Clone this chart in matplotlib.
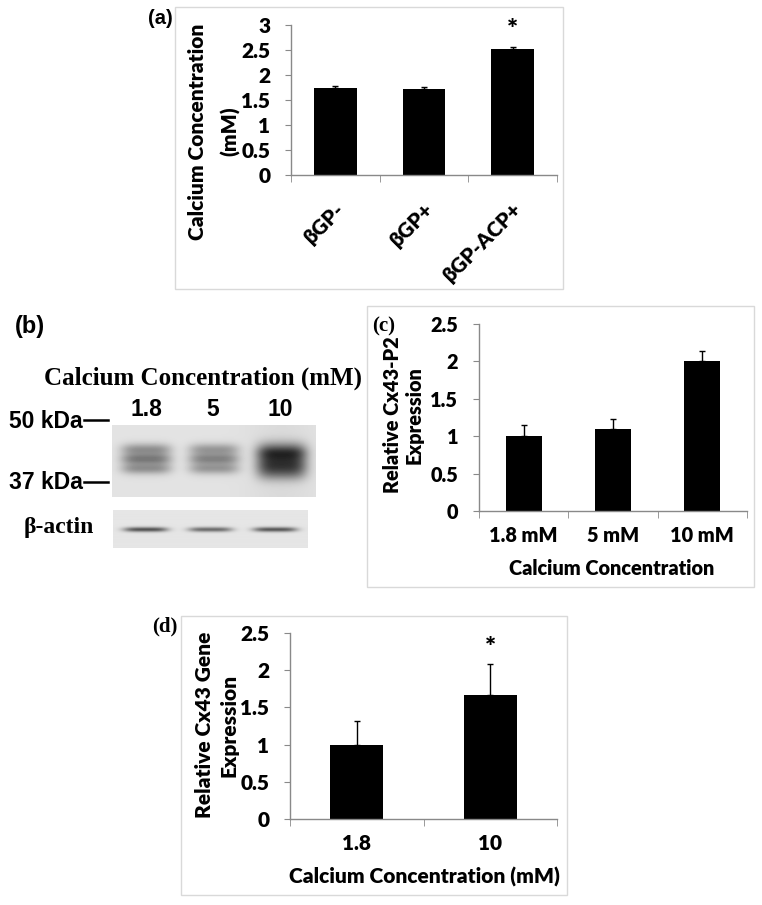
import numpy as np
import matplotlib
matplotlib.use("Agg")
import matplotlib.pyplot as plt
from matplotlib.patches import Rectangle
from matplotlib.transforms import offset_copy

# ---------------- data ----------------
a_cats = ["βGP-", "βGP+", "βGP-ACP+"]
a_vals = [1.74, 1.72, 2.51]
a_err = [0.03, 0.03, 0.05]
a_sig = [False, False, True]

c_cats = ["1.8 mM", "5 mM", "10 mM"]
c_vals = [1.0, 1.1, 2.0]
c_err = [0.15, 0.13, 0.14]

d_cats = ["1.8", "10"]
d_vals = [1.0, 1.66]
d_err = [0.32, 0.43]
d_sig = [False, True]

blot_lanes = ["1.8", "5", "10"]
cx43_darkness = [0.42, 0.38, 0.80]
actin_darkness = [0.60, 0.50, 0.58]

# ---------------- figure helpers ----------------
W, H = 762, 905
fig = plt.figure(figsize=(W / 100, H / 100), dpi=100)
fig.patch.set_facecolor("white")

SANS = ["Lato", "DejaVu Sans"]
SERIF = ["Liberation Serif", "DejaVu Serif"]
ARIAL = ["Liberation Sans", "DejaVu Sans"]
GREY = "#898989"
FS = 15
FSC = 14.3
WT = "heavy"


def add_ax(x0, y0, x1, y1):
    return fig.add_axes([x0 / W, 1 - y1 / H, (x1 - x0) / W, (y1 - y0) / H])


def ftext(x, y, s, **kw):
    return fig.text(x / W, 1 - y / H, s, **kw)


def box(x0, y0, x1, y1):
    fig.add_artist(Rectangle((x0 / W, 1 - y1 / H), (x1 - x0) / W, (y1 - y0) / H,
                             transform=fig.transFigure, fill=False,
                             ec="#d9d9d9", lw=1.0))


def bar_panel(ax, cats, vals, errs, ymax, width, fs, xlabels=True):
    x = np.arange(len(cats))
    ax.bar(x, vals, width=width, color="black", zorder=2)
    ax.errorbar(x, vals, yerr=[np.zeros(len(vals)), errs], fmt="none",
                ecolor="black", elinewidth=1, capsize=2.5, capthick=1, zorder=3)
    ax.set_xlim(-0.5, len(cats) - 0.5)
    ax.set_ylim(0, ymax)
    yt = np.arange(0, ymax + 0.001, 0.5)
    ax.set_yticks(yt)
    ax.set_yticklabels([f"{v:g}" for v in yt], fontfamily=SANS,
                       fontweight=WT, fontsize=fs)
    for s in ["top", "right"]:
        ax.spines[s].set_visible(False)
    for s in ["left", "bottom"]:
        ax.spines[s].set_color(GREY)
        ax.spines[s].set_linewidth(1.0)
    ax.tick_params(axis="y", length=4, color=GREY, pad=11)
    ax.set_xticks(x)
    if xlabels:
        ax.set_xticklabels(cats, fontfamily=SANS, fontweight=WT, fontsize=fs)
    else:
        ax.set_xticklabels([])
    ax.tick_params(axis="x", which="major", length=0, pad=11)
    ax.set_xticks(np.arange(len(cats) + 1) - 0.5, minor=True)
    ax.tick_params(axis="x", which="minor", length=5, color=GREY, direction="out")
    ax.patch.set_alpha(0)


# ---------------- panel (a) ----------------
box(175, 7, 563, 289)
axA = add_ax(291, 25, 557, 175)
bar_panel(axA, a_cats, a_vals, a_err, 3, 0.48, FS, xlabels=False)
tr = offset_copy(axA.get_xaxis_transform(), fig=fig, x=6, y=-31, units="dots")
for i, lab in enumerate(a_cats):
    axA.text(i, 0, lab, transform=tr, rotation=45, ha="right", va="center",
             rotation_mode="anchor", fontfamily=SANS, fontweight=WT, fontsize=FS)
for i, (v, e, s) in enumerate(zip(a_vals, a_err, a_sig)):
    if s:
        axA.annotate("*", (i, v + e), xytext=(0, 12), textcoords="offset points",
                     ha="center", va="center", fontfamily=SANS, fontweight=WT,
                     fontsize=19, annotation_clip=False)
ftext(160, 19, "(a)", ha="center", va="center", fontfamily=ARIAL,
      fontweight="bold", fontsize=14.5)
ftext(197, 132, "Calcium Concentration", rotation=90, ha="center", va="center",
      fontfamily=SANS, fontweight=WT, fontsize=FS)
ftext(230, 131, "(mM)", rotation=90, ha="center", va="center",
      fontfamily=SANS, fontweight=WT, fontsize=FS)

# ---------------- panel (b) ----------------
ftext(30, 327, "(b)", ha="center", va="center", fontfamily=ARIAL,
      fontweight="bold", fontsize=17)
ftext(203, 378, "Calcium Concentration (mM)", ha="center", va="center",
      fontfamily=SERIF, fontweight="bold", fontsize=18)
lane_px = [146, 213, 280]
for xp, lab in zip(lane_px, blot_lanes):
    ftext(xp, 410, lab, ha="center", va="center", fontfamily=ARIAL,
          fontweight="bold", fontsize=16.5)
ftext(46, 421, "50 kDa", ha="center", va="center", fontfamily=ARIAL,
      fontweight="bold", fontsize=16.5)
ftext(46, 482, "37 kDa", ha="center", va="center", fontfamily=ARIAL,
      fontweight="bold", fontsize=16.5)
for yy in [420, 482]:
    fig.add_artist(plt.Line2D([84 / W, 108 / W], [1 - yy / H, 1 - yy / H],
                              color="black", lw=1.8, transform=fig.transFigure))
ftext(59, 528, "β-actin", ha="center", va="center", fontfamily=SERIF,
      fontweight="bold", fontsize=17)

# Cx43 blot image
axB = add_ax(112, 425, 316, 497)
nx, ny = 204, 72
xx, yy = np.meshgrid(np.linspace(-0.5, 2.5, nx), np.linspace(0, ny, ny))
img = np.full((ny, nx), 0.89) - 0.035 * np.exp(-((xx - 2.0) / 0.5) ** 2)
for i, dk in enumerate(cx43_darkness):
    hx = np.exp(-np.abs((xx - i) / 0.37) ** 4)
    if dk > 0.6:
        vy = np.exp(-np.abs((yy - 36) / 17.5) ** 3)
        vy = 0.85 * vy + 0.12 * np.exp(-((yy - 27) / 6) ** 2)
    else:
        vy = (0.45 * np.exp(-((yy - 24) / 5.5) ** 2)
              + 0.55 * np.exp(-((yy - 34) / 5.0) ** 2)
              + 0.45 * np.exp(-((yy - 44) / 5.0) ** 2))
        vy = np.clip(vy + 0.45 * np.exp(-np.abs((yy - 34) / 15) ** 3), 0, 1)
    img -= dk * hx * vy
axB.imshow(img, cmap="gray", vmin=0, vmax=1, aspect="auto",
           extent=(-0.5, 2.5, ny, 0), interpolation="bicubic")
axB.set_axis_off()

# beta-actin blot image
axB2 = add_ax(113, 510, 308, 548)
ny2 = 38
xx2, yy2 = np.meshgrid(np.linspace(-0.5, 2.5, 195), np.linspace(0, ny2, ny2))
img2 = np.full((ny2, 195), 0.90)
for i, dk in enumerate(actin_darkness):
    hx = np.exp(-np.abs((xx2 - i) / 0.34) ** 4)
    vy = np.exp(-((yy2 - 20) / 2.3) ** 2)
    img2 -= dk * hx * vy
axB2.imshow(img2, cmap="gray", vmin=0, vmax=1, aspect="auto",
            extent=(-0.5, 2.5, ny2, 0), interpolation="bicubic")
axB2.set_axis_off()

# ---------------- panel (c) ----------------
box(367, 306, 754, 587)
axC = add_ax(479, 324, 747, 511)
bar_panel(axC, c_cats, c_vals, c_err, 2.5, 0.40, FSC)
ftext(384, 326, "(c)", ha="center", va="center", fontfamily=SERIF,
      fontweight="bold", fontsize=15)
ftext(392, 415, "Relative Cx43-P2", rotation=90, ha="center", va="center",
      fontfamily=SANS, fontweight=WT, fontsize=FSC)
ftext(414, 415, "Expression", rotation=90, ha="center", va="center",
      fontfamily=SANS, fontweight=WT, fontsize=FSC)
ftext(612, 568, "Calcium Concentration", ha="center", va="center",
      fontfamily=SANS, fontweight=WT, fontsize=FSC)

# ---------------- panel (d) ----------------
box(181, 616, 567, 895)
axD = add_ax(290, 633, 557, 819)
bar_panel(axD, d_cats, d_vals, d_err, 2.5, 0.40, FS)
for i, (v, e, s) in enumerate(zip(d_vals, d_err, d_sig)):
    if s:
        axD.annotate("*", (i, v + e), xytext=(0, 11), textcoords="offset points",
                     ha="center", va="center", fontfamily=SANS, fontweight=WT,
                     fontsize=19, annotation_clip=False)
ftext(165, 626, "(d)", ha="center", va="center", fontfamily=SERIF,
      fontweight="bold", fontsize=15)
ftext(204, 725, "Relative Cx43 Gene", rotation=90, ha="center", va="center",
      fontfamily=SANS, fontweight=WT, fontsize=FS)
ftext(229, 725, "Expression", rotation=90, ha="center", va="center",
      fontfamily=SANS, fontweight=WT, fontsize=FS)
ftext(424, 877, "Calcium Concentration (mM)", ha="center", va="center",
      fontfamily=SANS, fontweight=WT, fontsize=FS)

fig.savefig("out.png", dpi=100, facecolor="white")
